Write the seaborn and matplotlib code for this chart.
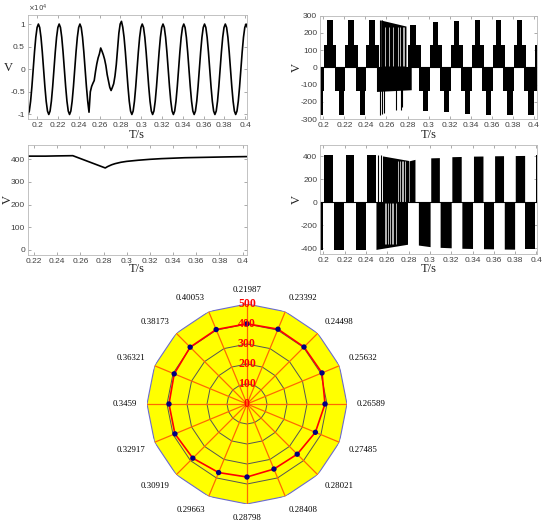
import numpy as np
import matplotlib
matplotlib.use("Agg")
import matplotlib.pyplot as plt
import seaborn as sns
import pandas as pd

sns.set_theme(style="white")
plt.rcParams["font.family"] = ["Liberation Sans", "DejaVu Sans"]

SERIF = "Liberation Serif"
TICK_FS = 6
GRAY = "#404040"

# ---------------- data: top-left grid voltage (x1e4 V) -----------------
tl_t = np.round(0.191 + 0.00125 * np.arange(170), 5)
tl_v_pre = [-1, -.924, -.707, -.383, 0, .383, .707, .924, 1, .924, .707, .383, 0, -.383, -.707, -.924,
            -1, -.924, -.707, -.383, 0, .383, .707, .924, 1, .924, .707, .383, 0, -.383, -.707, -.924,
            -1, -.924, -.707, -.383, 0, .383, .707, .924, 1, .924, .707, .383, 0, -.383, -.707, -.95]
tl_v_fault = [-0.5, -0.38, -0.31, -0.25, -0.05, 0.12, 0.25, 0.34, 0.47, 0.40, 0.32, 0.22,
              0.08, -0.12, -0.26, -0.40, -0.47, -0.40, -0.32, -0.15, 0.10, 0.45, 0.80, 1.0,
              1.06, .93, .707, .383, 0, -.383, -.707, -.924]
tl_v_post = [-1, -.924, -.707, -.383, 0, .383, .707, .924, 1, .924, .707, .383, 0, -.383, -.707, -.924,
             -1, -.924, -.707, -.383, 0, .383, .707, .924, 1, .924, .707, .383, 0, -.383, -.707, -.924,
             -1, -.924, -.707, -.383, 0, .383, .707, .924, 1, .924, .707, .383, 0, -.383, -.707, -.924,
             -1, -.924, -.707, -.383, 0, .383, .707, .924, 1, .924, .707, .383, 0, -.383, -.707, -.924,
             -1, -.924, -.707, -.383, 0, .383, .707, .924, 1, .924, .707, .383, 0, -.383, -.707, -.924,
             -1, -.924, -.707, -.383, 0, .383, .707, .924, 1, .924]

# ---------------- data: top-right multilevel output (V) -----------------
tr_pos_t = [0.1969, 0.201, 0.2038, 0.209, 0.2125,
            0.221, 0.2238, 0.229, 0.2325,
            0.241, 0.2438, 0.249, 0.2525,
            0.2805, 0.2825, 0.2885, 0.2925,
            0.301, 0.3038, 0.309, 0.3125,
            0.321, 0.3238, 0.329, 0.3325,
            0.341, 0.3438, 0.349, 0.3525,
            0.361, 0.3638, 0.369, 0.3725,
            0.381, 0.3838, 0.389, 0.3925,
            0.401, 0.4029]
tr_pos_v = [0, 130, 275, 130, 0,
            130, 275, 130, 0,
            130, 275, 130, 0,
            130, 245, 130, 0,
            130, 262, 130, 0,
            130, 270, 130, 0,
            130, 275, 130, 0,
            130, 275, 130, 0,
            130, 275, 130, 0,
            130, 130]
tr_neg_t = [0.1969, 0.1997, 0.201, 0.2108, 0.2145, 0.2197, 0.221,
            0.2308, 0.2345, 0.2397, 0.241,
            0.2905, 0.2945, 0.2997, 0.301,
            0.3108, 0.3145, 0.3197, 0.321,
            0.3308, 0.3345, 0.3397, 0.341,
            0.3508, 0.3545, 0.3597, 0.361,
            0.3708, 0.3745, 0.3797, 0.381,
            0.3908, 0.3945, 0.3997, 0.4029]
tr_neg_v = [-275, -135, 0, -135, -275, -135, 0,
            -135, -275, -135, 0,
            -135, -255, -135, 0,
            -135, -262, -135, 0,
            -135, -270, -135, 0,
            -135, -275, -135, 0,
            -135, -275, -135, 0,
            -135, -275, -135, -135]
tr_up_poly_t = [0.2545, 0.2785]
tr_up_poly_v = [275, 240]
tr_lo_poly_t = [0.2505, 0.2835]
tr_lo_poly_v = [-140, -130]
tr_spike_t = [0.2535, 0.2555, 0.2575, 0.2692, 0.2735, 0.2745]
tr_spike_lo = [-275, -270, -265, -250, -248, -230]
tr_spike_hi = [275, 275, 0, 0, 0, 0]
tr_gap_t = [0.2585, 0.2625, 0.2665, 0.2705, 0.2725, 0.2755, 0.2768]

# ---------------- data: bottom-left DC-link voltage -----------------
bl_t = [0.2146, 0.23, 0.24, 0.2535, 0.2815, 0.2835, 0.287, 0.29, 0.295, 0.30, 0.31,
        0.32, 0.33, 0.34, 0.35, 0.36, 0.37, 0.38, 0.39, 0.4035]
bl_v = [413, 413, 414, 415, 361, 367, 375, 380, 386, 390, 395,
        399, 402, 404, 406, 407, 408, 409, 410, 411]

# ---------------- data: bottom-right two-level output -----------------
br_pos_start = [0.2008, 0.2209, 0.2406, 0.2805, 0.3008, 0.3206, 0.3409, 0.3607, 0.3801, 0.3998]
br_pos_end = [0.2092, 0.2290, 0.2494, 0.2860, 0.3089, 0.3294, 0.3498, 0.3691, 0.3889, 0.4006]
br_pos_h0 = [413, 413, 414, 362, 388, 398, 403, 406, 408, 410]
br_pos_h1 = [413, 413, 414, 375, 390, 400, 404, 407, 409, 410]
br_neg_start = [0.1960, 0.2102, 0.2303, 0.2892, 0.3096, 0.3300, 0.3503, 0.3698, 0.3896]
br_neg_end = [0.1993, 0.2196, 0.2397, 0.3002, 0.3200, 0.3400, 0.3597, 0.3795, 0.3990]
br_neg_h0 = [-413, -413, -414, -372, -392, -400, -404, -407, -409]
br_neg_h1 = [-413, -413, -414, -386, -396, -402, -405, -408, -409]
br_up_poly_t = [0.2555, 0.2800]
br_up_poly_v = [405, 365]
br_lo_poly_t = [0.2494, 0.2790]
br_lo_poly_v = [-410, -365]
br_spike_t = [0.2514, 0.2538]
br_gap_up_t = [0.2700, 0.2718, 0.2735, 0.2750, 0.2768]
br_gap_lo_t = [0.2575, 0.2590, 0.2610, 0.2625, 0.2640, 0.2655, 0.2680]

# ---------------- data: radar -----------------
radar_labels = ["0.21987", "0.23392", "0.24498", "0.25632", "0.26589", "0.27485", "0.28021",
                "0.28408", "0.28798", "0.29663", "0.30919", "0.32917", "0.3459", "0.36321",
                "0.38173", "0.40053"]
radar_values = [401, 405, 403, 406, 390, 370, 355, 352, 365, 371, 383, 390, 390, 394, 402, 403]
radar_rings = [100, 200, 300, 400, 500]

# ======================================================================
fig = plt.figure(figsize=(5.5, 5.29), dpi=100)
W, H = 550, 529


def box(l, t, r, b):
    return [l / W, 1 - b / H, (r - l) / W, (b - t) / H]


def style(ax, xt, xl, yt, yl, xlim, ylim, vlab, tlab_y, vrot=90):
    ax.set_xlim(*xlim)
    ax.set_ylim(*ylim)
    ax.set_xticks(xt)
    ax.set_xticklabels(xl, fontsize=TICK_FS, color=GRAY)
    ax.set_yticks(yt)
    ax.set_yticklabels(yl, fontsize=TICK_FS, color=GRAY)
    ax.tick_params(direction="in", length=2, width=0.5, color="#888888", top=True, right=True,
                   bottom=True, left=True, pad=2)
    for s in ax.spines.values():
        s.set_color("#b8b8b8")
        s.set_linewidth(0.6)
    ax.set_xlabel("T/s", fontfamily=SERIF, fontsize=9, color="#222222")
    ax.set_ylabel("V", fontfamily=SERIF, fontsize=9, color="#222222", rotation=vrot)
    ax.xaxis.set_label_coords(0.5, tlab_y)
    ax.yaxis.set_label_coords(*vlab)
    ax.set_facecolor("white")


xt_a = [0.2, 0.22, 0.24, 0.26, 0.28, 0.3, 0.32, 0.34, 0.36, 0.38, 0.4]
xl_a = ["0.2", "0.22", "0.24", "0.26", "0.28", "0.3", "0.32", "0.34", "0.36", "0.38", "0.4"]

# ---- top-left
ax1 = fig.add_axes(box(27.7, 15, 246.7, 119))
df1 = pd.DataFrame({"t": tl_t, "v": np.array(tl_v_pre + tl_v_fault + tl_v_post) * 1e4})
sns.lineplot(data=df1, x="t", y="v", ax=ax1, color="black", lw=1.2, estimator=None, sort=False)
style(ax1, xt_a, xl_a, [-1e4, -5e3, 0, 5e3, 1e4], ["-1", "-0.5", "0", "0.5", "1"],
      (0.1907, 0.4016), (-1.1e4, 1.2e4), (-0.089, 0.43), -0.095, vrot=0)
ax1.text(0.0, 1.01, r"$\times10^{4}$", transform=ax1.transAxes, fontsize=5, color=GRAY,
         ha="left", va="bottom")

# ---- top-right
ax2 = fig.add_axes(box(320, 15.7, 537, 119))
ax2.fill_between(tr_pos_t, 0, tr_pos_v, step="post", color="black", lw=0)
ax2.fill_between(tr_neg_t, tr_neg_v, 0, step="post", color="black", lw=0)
ax2.fill_between(tr_up_poly_t, 0, tr_up_poly_v, color="black", lw=0)
ax2.fill_between(tr_lo_poly_t, tr_lo_poly_v, 0, color="black", lw=0)
ax2.vlines(tr_spike_t, tr_spike_lo, tr_spike_hi, color="black", lw=0.8)
ax2.vlines(tr_gap_t, 5, 235, color="white", lw=0.5)
sns.lineplot(x=[0.1969, 0.4029], y=[0, 0], ax=ax2, color="black", lw=0.8)
style(ax2, xt_a, xl_a, [-300, -200, -100, 0, 100, 200, 300],
      ["-300", "-200", "-100", "0", "100", "200", "300"],
      (0.1969, 0.4029), (-300, 300), (-0.078, 0.5), -0.095)

# ---- bottom-left
ax3 = fig.add_axes(box(27.7, 145, 246.7, 255))
sns.lineplot(x=bl_t, y=bl_v, ax=ax3, color="black", lw=1.2, estimator=None, sort=False)
style(ax3, xt_a[1:], xl_a[1:], [0, 100, 200, 300, 400], ["0", "100", "200", "300", "400"],
      (0.2146, 0.4035), (-22, 462), (-0.063, 0.5), -0.075)

# ---- bottom-right
ax4 = fig.add_axes(box(320, 145, 537, 254))
for s0, s1, h0, h1 in zip(br_pos_start, br_pos_end, br_pos_h0, br_pos_h1):
    ax4.fill_between([s0, s1], 0, [h0, h1], color="black", lw=0)
for s0, s1, h0, h1 in zip(br_neg_start, br_neg_end, br_neg_h0, br_neg_h1):
    ax4.fill_between([s0, s1], [h0, h1], 0, color="black", lw=0)
ax4.fill_between(br_up_poly_t, 0, br_up_poly_v, color="black", lw=0)
ax4.fill_between(br_lo_poly_t, br_lo_poly_v, 0, color="black", lw=0)
ax4.vlines(br_spike_t, 0, 410, color="black", lw=0.8)
ax4.vlines(br_gap_up_t, 5, 360, color="white", lw=0.5)
ax4.vlines(br_gap_lo_t, -360, -5, color="white", lw=0.5)
sns.lineplot(x=[0.1969, 0.4005], y=[0, 0], ax=ax4, color="black", lw=0.8)
style(ax4, xt_a, xl_a, [-400, -200, 0, 200, 400], ["-400", "-200", "0", "200", "400"],
      (0.1969, 0.4005), (-450, 500), (-0.078, 0.5), -0.08)

# ---- radar
rax = fig.add_axes(box(147, 304, 347, 504), projection="polar")
rax.set_theta_zero_location("N")
rax.set_theta_direction(-1)
rax.set_ylim(0, 500)
rax.axis("off")
n = len(radar_labels)
theta = np.arange(n) * 2 * np.pi / n
th_c = np.append(theta, theta[0] + 2 * np.pi)
rax.fill(th_c, [500] * (n + 1), color="#ffff00", zorder=0, lw=0)
for r in radar_rings[:-1]:
    rax.plot(th_c, [r] * (n + 1), color="#555555", lw=0.7, zorder=1)
rax.plot(th_c, [500] * (n + 1), color="#6a6ad0", lw=0.8, zorder=1)
for th in theta:
    rax.plot([th, th], [0, 500], color="#ff6a00", lw=0.9, zorder=2)
vals_c = radar_values + radar_values[:1]
sns.lineplot(x=th_c, y=vals_c, ax=rax, color="#ff0000", lw=1.2, sort=False, estimator=None, zorder=3)
sns.scatterplot(x=theta, y=radar_values, ax=rax, color="#000080", s=15, edgecolor="none", zorder=4)
rax.set_xlabel("")
rax.set_ylabel("")
for r in [0] + radar_rings:
    rax.text(0, r, str(r), color="#ff0000", fontsize=8.5, fontfamily=SERIF, fontweight="bold",
             ha="center", va="center", zorder=5)
for th, lab in zip(theta, radar_labels):
    s, c = np.sin(th), np.cos(th)
    ha = "left" if s > 0.01 else ("right" if s < -0.01 else "center")
    va = "bottom" if c > 0.01 else ("top" if c < -0.01 else "center")
    rax.text(th, 550, lab, fontsize=6.3, fontfamily=SERIF, ha=ha, va=va, color="black")

fig.savefig("out.png", dpi=100)
